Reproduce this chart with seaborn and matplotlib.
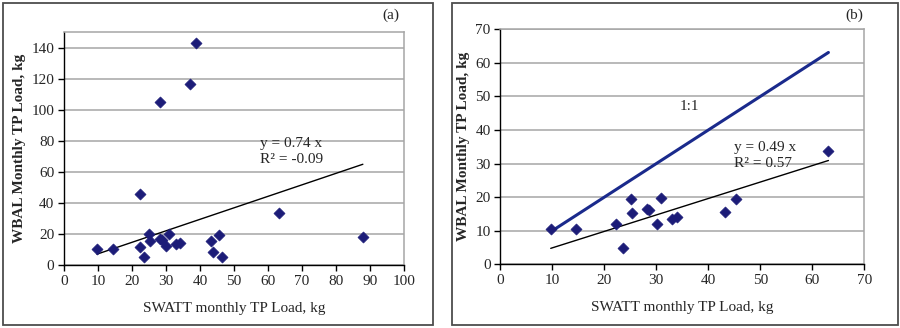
import matplotlib.pyplot as plt
import numpy as np
import pandas as pd
import seaborn as sns
from matplotlib.patches import Rectangle

sns.set_theme(style="white")
plt.rcParams["font.family"] = ["Liberation Serif", "DejaVu Serif"]

# panel (a): all months
swatt_a = [9.7, 14.5, 22.3, 22.4, 23.5, 25.1, 25.4, 28.1, 28.3, 28.7, 30.1,
           30.9, 33.0, 34.0, 37.0, 38.8, 43.3, 43.9, 45.6, 46.6, 63.1, 87.9]
wbal_a = [10.6, 10.6, 46.0, 12.0, 5.1, 19.9, 15.4, 104.9, 16.7, 16.3, 12.2,
          19.9, 13.5, 14.1, 116.7, 142.8, 15.6, 8.4, 19.5, 5.1, 33.9, 18.2]
slope_a = 0.74

# panel (b): outliers removed
swatt_b = [9.7, 14.5, 22.2, 23.5, 25.1, 25.4, 28.2, 28.6, 30.1, 30.9, 32.95,
           33.9, 43.3, 45.4, 63.1]
wbal_b = [10.5, 10.5, 12.0, 4.9, 19.4, 15.3, 16.6, 16.2, 12.1, 19.8, 13.6,
          14.0, 15.7, 19.4, 33.7]
slope_b = 0.49

navy = "#1c1c78"
fig = plt.figure(figsize=(9, 3.28), dpi=100)

# panel frames
fig.patches.append(Rectangle((3 / 900, 3 / 328), 430 / 900, 322 / 328,
                             transform=fig.transFigure, fill=False,
                             edgecolor="#4d4d4d", linewidth=1.3))
fig.patches.append(Rectangle((452 / 900, 3 / 328), 446 / 900, 322 / 328,
                             transform=fig.transFigure, fill=False,
                             edgecolor="#4d4d4d", linewidth=1.3))

ax1 = fig.add_axes([64 / 900, 62.7 / 328, 340 / 900, 233 / 328])
ax2 = fig.add_axes([500.3 / 900, 63.7 / 328, 364 / 900, 235 / 328])


def style(ax, xmax, ymax, ystep):
    ax.set_xlim(0, xmax)
    ax.set_ylim(0, ymax)
    ax.set_xticks(np.arange(0, xmax + 1, 10))
    ax.set_yticks(np.arange(0, ymax + 0.1, ystep))
    ax.yaxis.grid(True, color="#a6a6a6", linewidth=1.1)
    ax.set_axisbelow(True)
    for s in ["top", "right"]:
        ax.spines[s].set_color("#a6a6a6")
        ax.spines[s].set_linewidth(1.1)
    for s in ["left", "bottom"]:
        ax.spines[s].set_color("black")
        ax.spines[s].set_linewidth(1.0)
    ax.tick_params(axis="both", direction="out", length=4, width=1,
                   color="black", labelsize=11, pad=3, bottom=True, left=True)
    ax.set_xlabel("SWATT monthly TP Load, kg", fontsize=11, labelpad=10)
    ax.set_ylabel("WBAL Monthly TP Load, kg", fontsize=11, fontweight="bold",
                  labelpad=4)


# (a)
df_a = pd.DataFrame({"x": swatt_a, "y": wbal_a})
sns.scatterplot(data=df_a, x="x", y="y", ax=ax1, marker="D", s=32,
                color=navy, edgecolor=navy, zorder=3)
xa = np.array([min(swatt_a), max(swatt_a)])
ax1.plot(xa, slope_a * xa, color="black", linewidth=1.0, zorder=2)
style(ax1, 100, 150, 20)
ax1.text(57.5, 73.0, "y = 0.74 x\nR² = -0.09", fontsize=11,
         va="center", linespacing=1.3)
fig.text(391 / 900, 1 - 15 / 328, "(a)", fontsize=11, ha="center", va="center")

# (b)
df_b = pd.DataFrame({"x": swatt_b, "y": wbal_b})
sns.scatterplot(data=df_b, x="x", y="y", ax=ax2, marker="D", s=32,
                color=navy, edgecolor=navy, zorder=3)
xb = np.array([min(swatt_b), max(swatt_b)])
ax2.plot(xb, xb, color="#1a2a8c", linewidth=2.2, zorder=2)
ax2.plot(xb, slope_b * xb, color="black", linewidth=1.0, zorder=2)
style(ax2, 70, 70, 10)
ax2.text(45.0, 32.4, "y = 0.49 x\nR² = 0.57", fontsize=11,
         va="center", linespacing=1.3)
ax2.text(34.5, 46, "1:1", fontsize=11)
fig.text(854 / 900, 1 - 15 / 328, "(b)", fontsize=11, ha="center", va="center")

plt.savefig("out.png", dpi=100)
